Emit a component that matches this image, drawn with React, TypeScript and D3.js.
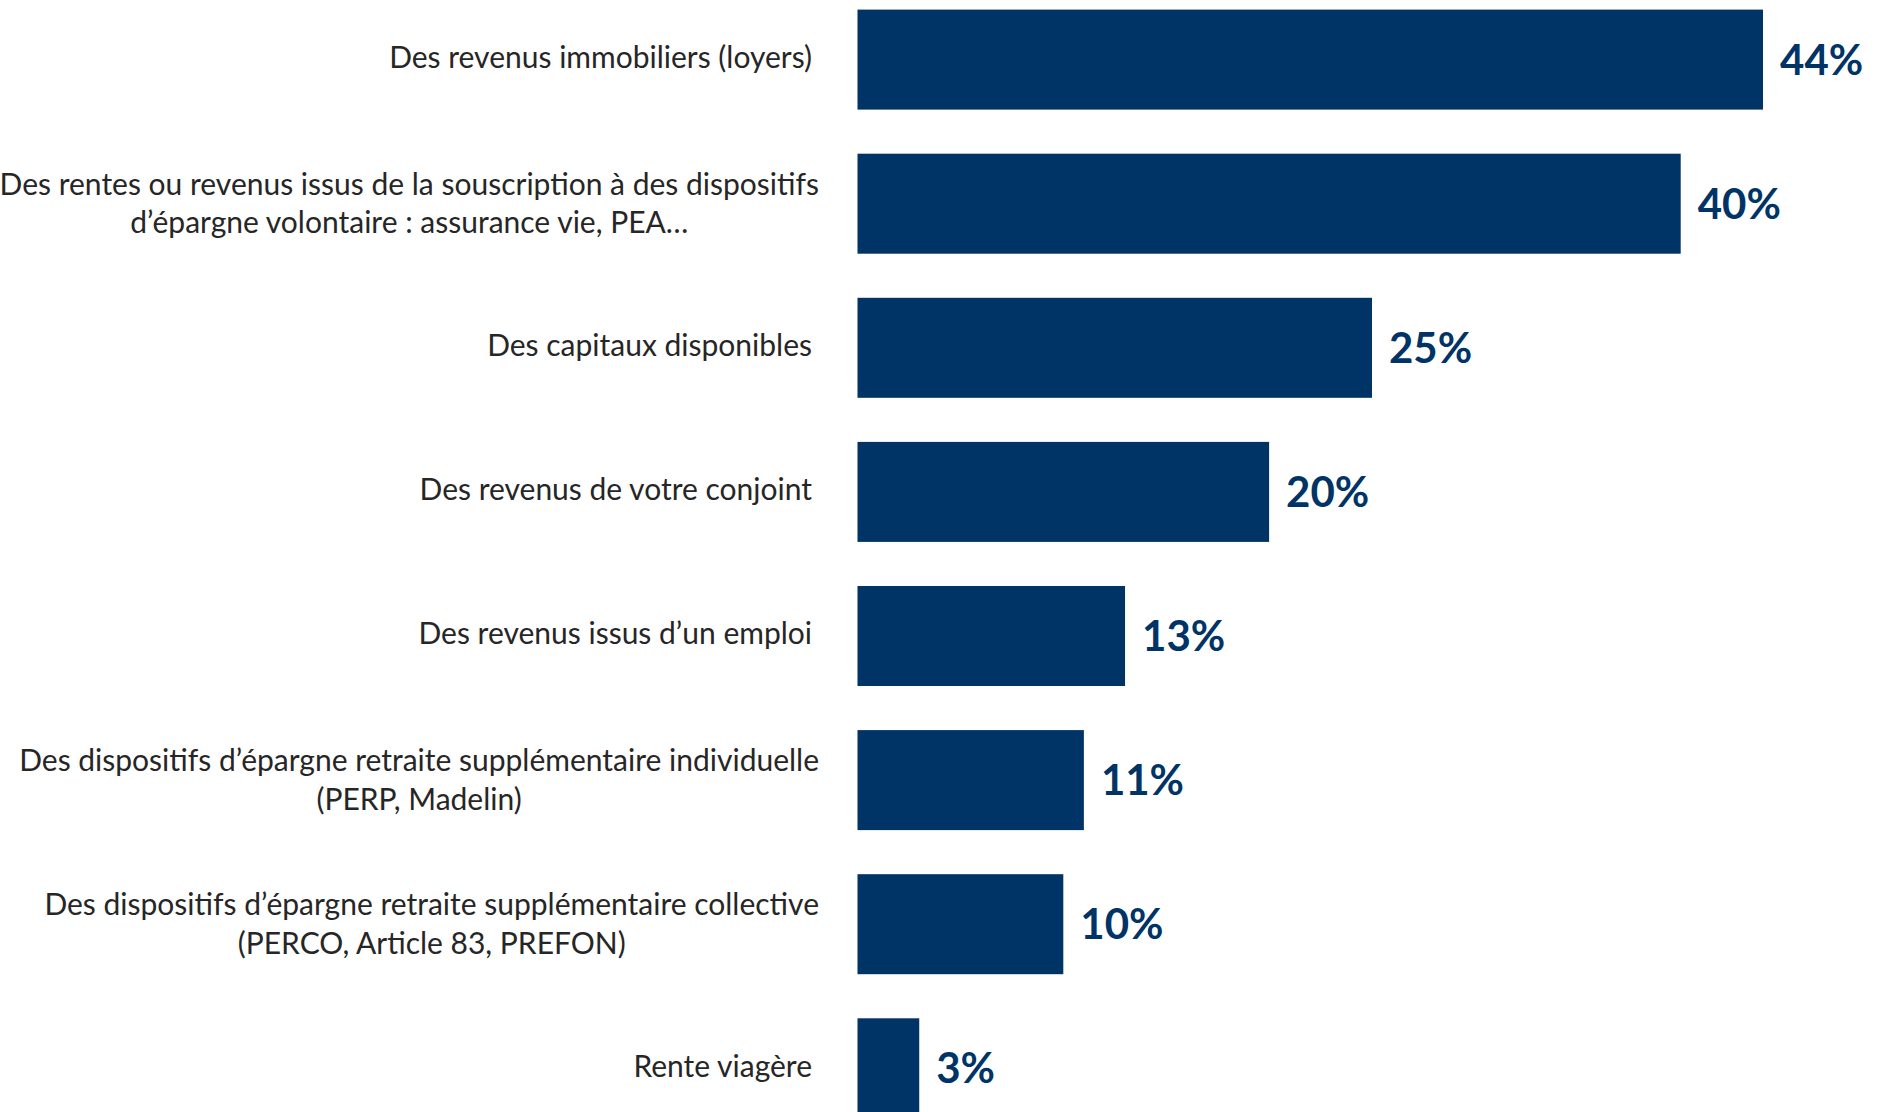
import React from "react";
import * as d3 from "d3";

const categories: string[][] = [
  ["Des revenus immobiliers (loyers)"],
  ["Des rentes ou revenus issus de la souscription à des dispositifs", "d’épargne volontaire : assurance vie, PEA…"],
  ["Des capitaux disponibles"],
  ["Des revenus de votre conjoint"],
  ["Des revenus issus d’un emploi"],
  ["Des dispositifs d’épargne retraite supplémentaire individuelle", "(PERP, Madelin)"],
  ["Des dispositifs d’épargne retraite supplémentaire collective", "(PERCO, Article 83, PREFON)"],
  ["Rente viagère"],
];
const values: number[] = [44, 40, 25, 20, 13, 11, 10, 3];
const valueLabels: string[] = ["44%", "40%", "25%", "20%", "13%", "11%", "10%", "3%"];

const W = 1883;
const H = 1112;
const BAR = "#003366";
const TEXT = "#262626";
const LABEL_FONT = "Lato, 'Open Sans', sans-serif";
const LABEL_SIZE = 30;

let ctx: CanvasRenderingContext2D | null = null;
function measure(s: string): number {
  if (!ctx) ctx = document.createElement("canvas").getContext("2d");
  if (!ctx) return s.length * LABEL_SIZE * 0.45;
  ctx.font = `${LABEL_SIZE}px Lato`;
  return ctx.measureText(s).width;
}

export default function App() {
  const keys = categories.map((c, i) => String(i));
  const y = d3.scaleBand<string>().domain(keys).range([9.6, 1118.3]).paddingInner(0.306).paddingOuter(0);
  const x = d3.scaleLinear().domain([0, 100]).range([857.5, 857.5 + 2058]);
  return (
    <svg width={W} height={H} style={{ position: "absolute", left: 0, top: 0, background: "#fff" }}>
      {values.map((v, i) => {
        const y0 = y(keys[i])!;
        const bw = y.bandwidth();
        const cy = y0 + bw / 2;
        const lines = categories[i];
        const maxW = Math.max(...lines.map(measure));
        return (
          <g key={i}>
            <rect x={x(0)} y={y0} width={x(v) - x(0)} height={bw} fill={BAR} />
            <text x={x(v) + 17} y={cy} dy="0.36em" fill={BAR} fontFamily={LABEL_FONT} fontWeight={700} fontSize={42}>
              {valueLabels[i]}
            </text>
            {lines.length === 1 ? (
              <text x={812} y={cy - 2} dy="0.35em" textAnchor="end" fill={TEXT} fontFamily={LABEL_FONT} fontSize={LABEL_SIZE}>
                {lines[0]}
              </text>
            ) : (
              <text textAnchor="middle" fill={TEXT} fontFamily={LABEL_FONT} fontSize={LABEL_SIZE}>
                {lines.map((l, j) => (
                  <tspan key={j} x={819 - maxW / 2} y={cy + (j - 0.5) * 38.4} dy="0.35em">
                    {l}
                  </tspan>
                ))}
              </text>
            )}
          </g>
        );
      })}
    </svg>
  );
}
